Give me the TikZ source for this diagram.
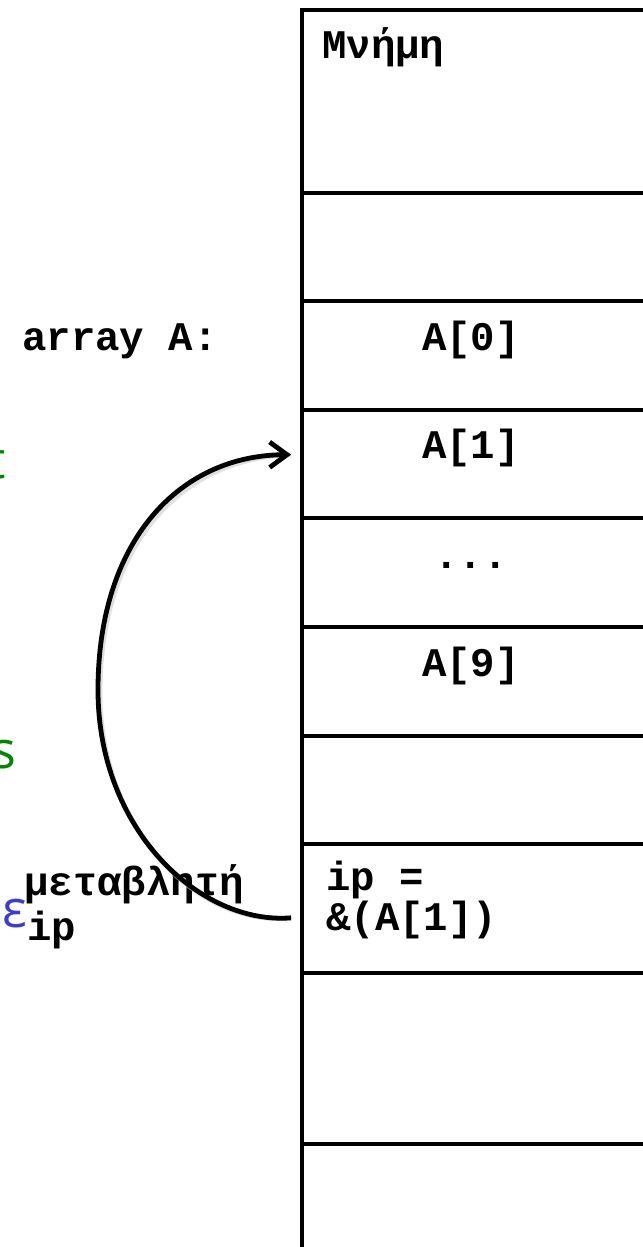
\documentclass[tikz,border=0pt]{standalone}
\usepackage{fontspec}
\setmonofont{Liberation Mono}
\newfontfamily\sansf{Open Sans}
\usetikzlibrary{arrows.meta,fit}
\definecolor{slidegreen}{RGB}{0,135,0}
\definecolor{slideblue}{RGB}{60,60,210}
\begin{document}
\begin{tikzpicture}[x=0.75pt,y=-0.75pt,
  cell/.style={draw, line width=2.4pt, inner sep=0pt, fit={#1}},
  code/.style={font=\ttfamily\bfseries\fontsize{30.5}{36}\selectfont, inner sep=0pt},
  frag/.style={font=\sansf\fontsize{39}{44}\selectfont, inner sep=0pt, anchor=base east},
  ptr/.style={line width=3.6pt, -{Straight Barb[length=13pt,width=19pt]}},
]
\useasboundingbox (0,0) rectangle (643,1247);
% memory cells
\node[cell={(302,10)(680,193)}] (m0) {};
\node[cell={(302,193)(680,301)}] (m1) {};
\node[cell={(302,301)(680,410)}] (c0) {};
\node[cell={(302,410)(680,518)}] (c1) {};
\node[cell={(302,518)(680,627)}] (cd) {};
\node[cell={(302,627)(680,736)}] (c9) {};
\node[cell={(302,736)(680,844)}] (m2) {};
\node[cell={(302,844)(680,973)}] (cip) {};
\node[cell={(302,973)(680,1144)}] (m3) {};
\node[cell={(302,1144)(680,1290)}] (m4) {};
% texts
\node[code, anchor=base west] (mem) at (322,58) {Μνήμη};
\node[code, anchor=base west] (arr) at (22,350) {array A:};
\node[code, anchor=base] (a0) at (471,350) {A[0]};
\node[code, anchor=base] (a1) at (471,458) {A[1]};
\node[code, anchor=base] (dots) at (471,568) {...};
\node[code, anchor=base] (a9) at (471,676) {A[9]};
\node[code, anchor=base west] (var) at (24,895) {μεταβλητή};
\node[code, anchor=base west] (ipn) at (27,940) {ip};
\node[code, anchor=base west] (ipv) at (326,890) {ip =};
\node[code, anchor=base west] (ipa) at (326,930) {\&(A[1])};
% clipped fragments at left edge
\node[frag, text=slidegreen] (g1) at (6,478) {t};
\node[frag, text=slidegreen] (g2) at (1.5,647) {t};
\node[frag, text=slidegreen] (g3) at (17,768) {s};
\node[frag, text=slideblue] (e1) at (27,927) {ε};
% pointer arrow
\coordinate (ps) at ([xshift=-7pt,yshift=-7pt]cip.west);
\coordinate (pe) at ([xshift=-7pt,yshift=7pt]c1.west);
\draw[line width=3.6pt, gray!40, opacity=0.6, shift={(2,3)}]
  (ps) .. controls (200,925) and (98,830) .. (98,690)
       .. controls (98,540) and (180,455) .. (pe);
\draw[ptr] (ps) .. controls (200,925) and (98,830) .. (98,690)
       .. controls (98,540) and (180,455) .. (pe);
\end{tikzpicture}
\end{document}
